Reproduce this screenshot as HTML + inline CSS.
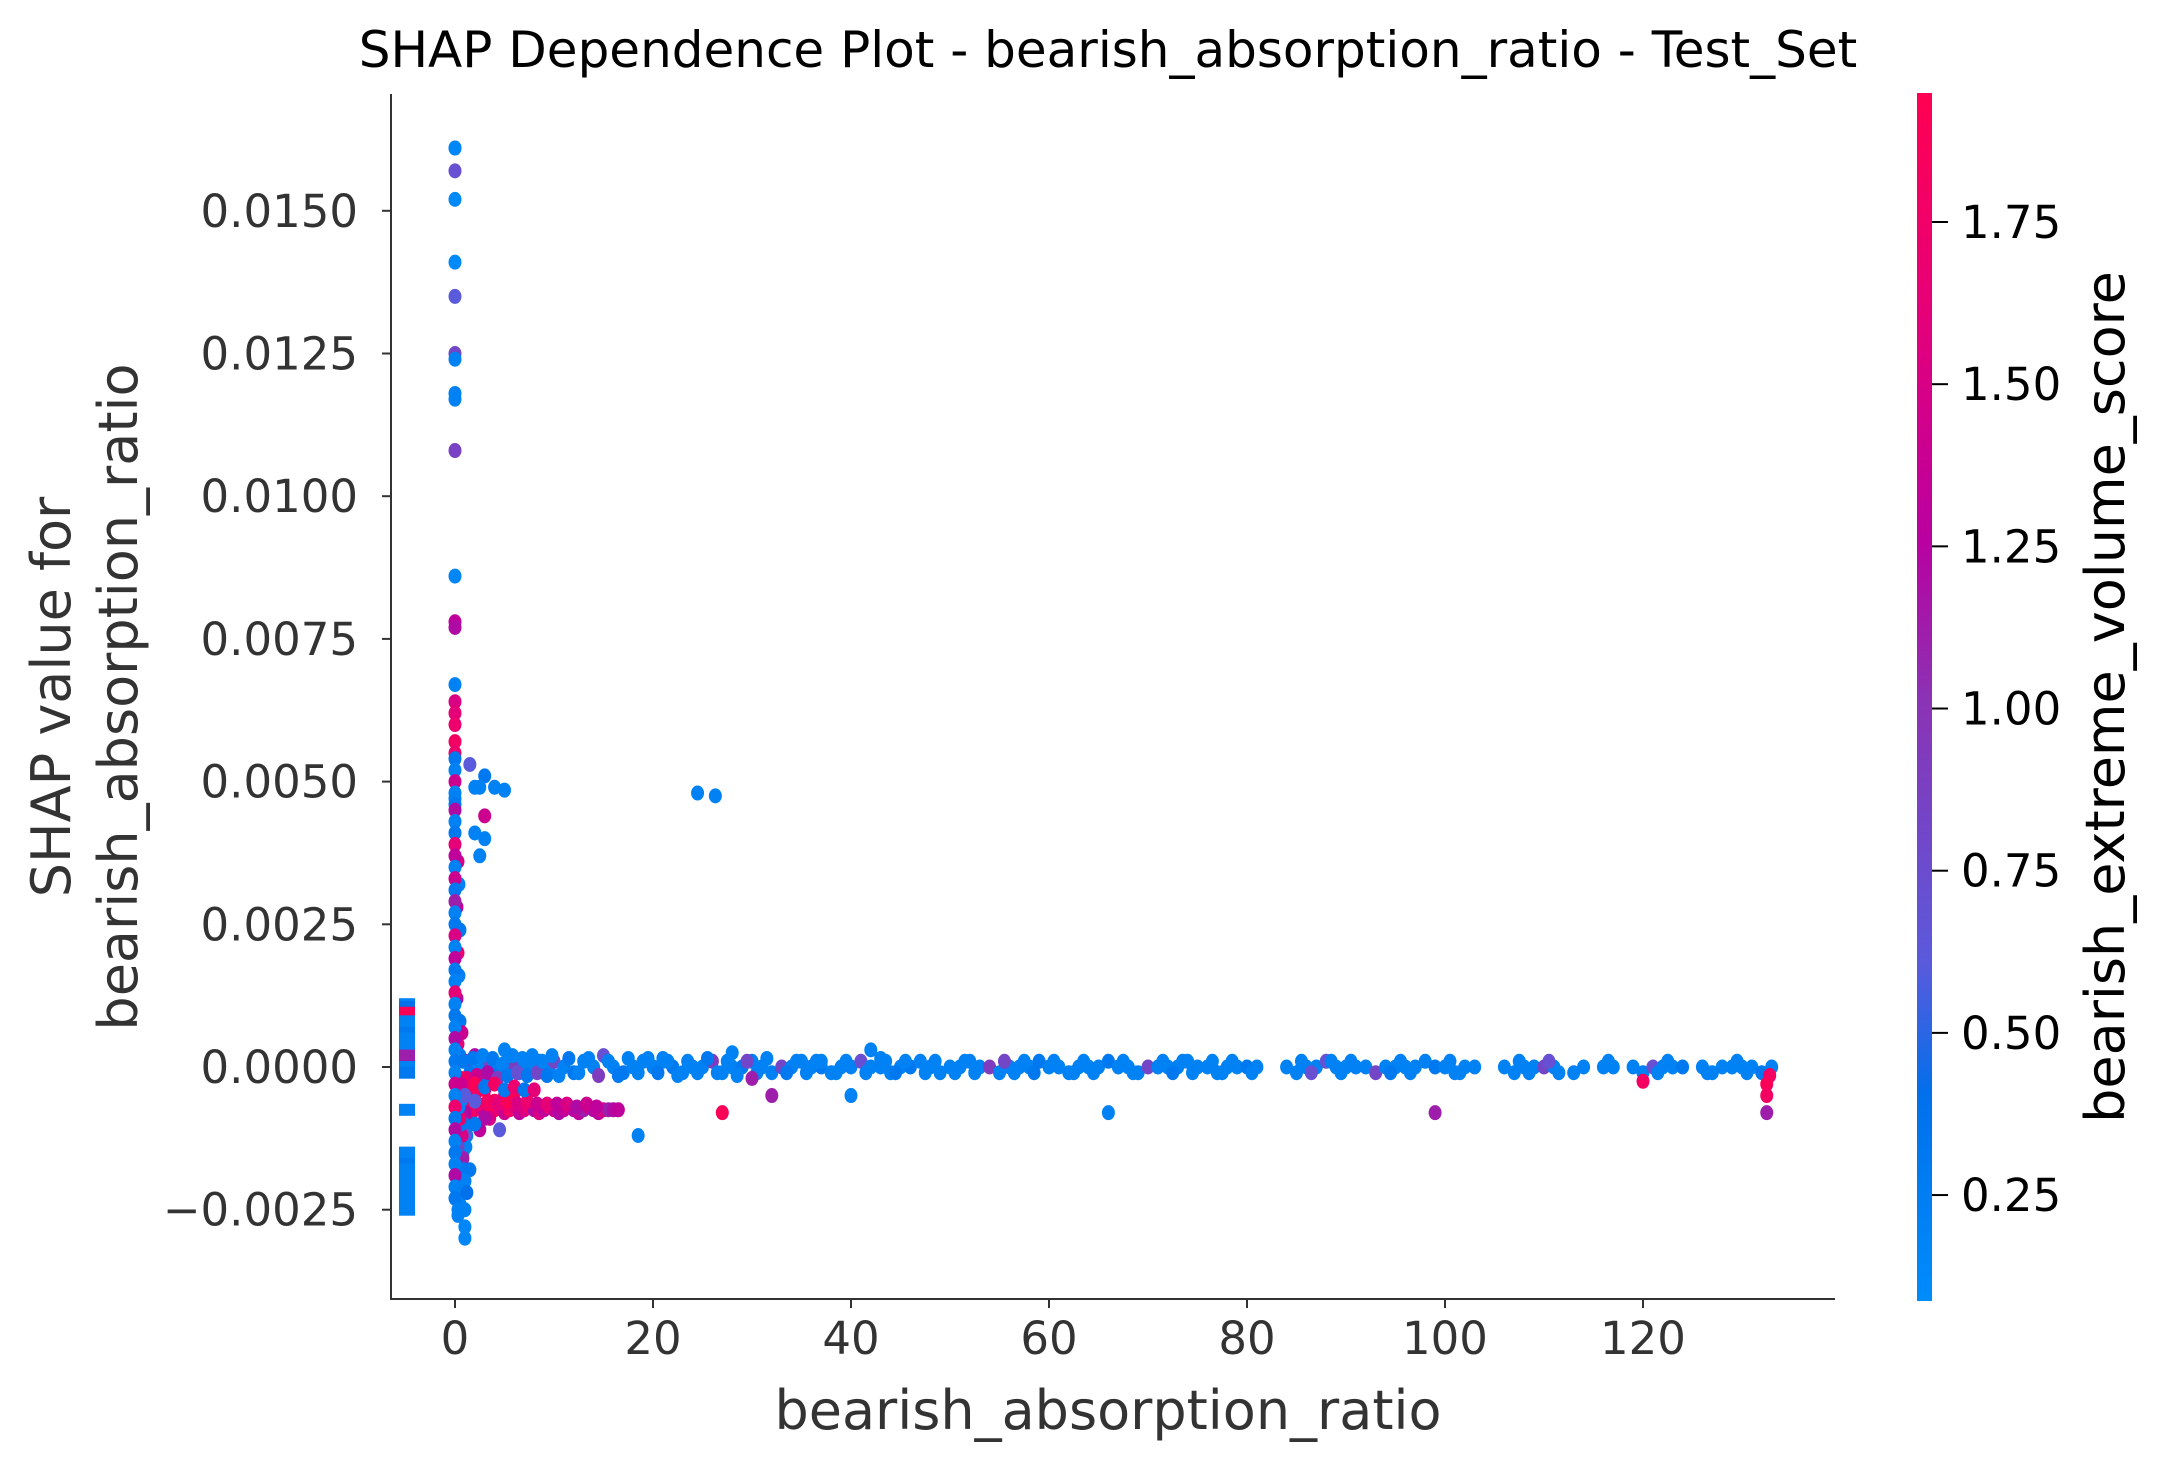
<!DOCTYPE html>
<html><head><meta charset="utf-8"><style>
body{margin:0;background:#fff;}
svg{display:block;font-family:"DejaVu Sans","Liberation Sans",sans-serif;}
</style></head><body>
<svg id="chart" width="2163" height="1471" viewBox="0 0 2163 1471">
<defs><linearGradient id="cbg" x1="0" y1="1" x2="0" y2="0">
<stop offset="0" stop-color="rgb(0,140,250)"/><stop offset="0.17" stop-color="rgb(0,112,235)"/><stop offset="0.28" stop-color="rgb(90,90,220)"/><stop offset="0.5" stop-color="rgb(140,50,180)"/><stop offset="0.63" stop-color="rgb(185,0,160)"/><stop offset="0.82" stop-color="rgb(230,0,120)"/><stop offset="1" stop-color="rgb(255,0,82)"/></linearGradient></defs>
<text x="1108" y="67" font-size="50" text-anchor="middle" fill="#000">SHAP Dependence Plot - bearish_absorption_ratio - Test_Set</text>
<g id="marks"></g>
<line x1="391" y1="94" x2="391" y2="1299" stroke="#333" stroke-width="2"/>
<line x1="390" y1="1299" x2="1835" y2="1299" stroke="#333" stroke-width="2"/>
<g id="axes"></g>
<text x="1108" y="1429" font-size="54" text-anchor="middle" fill="#333">bearish_absorption_ratio</text>
<text transform="translate(70,697) rotate(-90)" font-size="54" text-anchor="middle" fill="#333">SHAP value for</text>
<text transform="translate(137,697) rotate(-90)" font-size="54" text-anchor="middle" fill="#333">bearish_absorption_ratio</text>
<rect x="1917" y="93" width="15" height="1208" fill="url(#cbg)"/>
<g id="cbar"></g>
<text transform="translate(2124,697) rotate(-90)" font-size="54" text-anchor="middle" fill="#000">bearish_extreme_volume_score</text>
</svg>
<script>
const xTicks=[0,20,40,60,80,100,120];
const yTicks=[-25,0,25,50,75,100,125,150];
const yTickLabels=["\u22120.0025","0.0000","0.0025","0.0050","0.0075","0.0100","0.0125","0.0150"];
const cTicks=[0.25,0.5,0.75,1.0,1.25,1.5,1.75];
const cTickLabels=["0.25","0.50","0.75","1.00","1.25","1.50","1.75"];
// SHAP values in units of 1e-4
const spikeY=[161,161,157,152,141,135,125,124,118,117,108,86,78,77,67,64,62,60,57,55,54,52,50,48,47,46,45,43,41,39,37,35,33,31,29,27,25,23,21,19,17,15,13,11,9,7,5,3,1,-1,-3,-5,-7,-9,-11,-13,-15,-17,-19,-21,-23,-25,-26];
const spikeX=[0,0,0,0,0,0,0,0,0,0,0,0,0,0,0,0,0,0,0,0,0,0,0,0,0,0,0,0,0,0,0,0,0,0,0,0,0,0,0,0,0,0,0,0,0,0,0,0,0,0,0,0,0,0,0,0,0,0,0,0,0,0.3,0.3];
const spikeC=[0.15,0.15,0.7,0.1,0.1,0.6,0.8,0.2,0.2,0.2,0.85,0.15,1.3,1.2,0.2,1.5,1.6,1.7,1.8,1.7,0.3,0.2,1.4,0.2,0.2,0.3,1.2,0.2,0.3,1.6,1.3,0.2,1.4,0.3,1.1,0.2,0.3,1.5,0.2,1.3,0.3,0.2,1.6,0.2,0.3,0.2,1.2,0.2,0.3,0.2,1.4,0.2,1.7,0.3,1.2,0.2,0.3,0.2,1.2,0.2,0.3,0.2,0.2];
const spike2X=[0.3,0.4,0.2,0.5,0.3,0.4,0.2,0.5,0.3,0.4,0.6,0.5,0.7,0.6,0.8,0.9,1,1.1,0.8,0.9,1,1.2,0.7,0.6,0.5,0.4,0.3,0.6,0.8,1];
const spike2Y=[36,32,28,24,20,16,12,8,4,-4,-2,2,6,-6,-8,-10,-12,-14,-16,-18,-20,-22,-12,-10,-9,-7,-14,-3,1,-5];
const spike2C=[1.5,0.2,1.3,0.3,1.7,0.2,1.2,0.3,1.6,0.2,1.8,0.3,1.4,0.2,1.2,0.3,0.6,0.2,1.1,0.3,0.2,0.4,1.5,0.3,1.7,0.2,0.8,1.4,0.3,0.6];
const otherX=[1,1,0.5,1,1.5,3,2.5,4,5,3,2,3,2.5,2,24.5,26.3,18.5,27,40,66,99,120,132.5,132.5,132.5,30,32,21,28,42,43,37,1,1.5,0.8,1.2,2,0.5,1,2,0.5];
const otherY=[-28,-30,-24,-25,53,51,49,49,48.5,44,41,40,37,49,48,47.5,-12,-8,-5,-8,-8,-2.5,-3,-5,-8,-2,-5,1.5,2.5,3,1.5,1,-20,-18,-15,-12,-10,-22,-8,-6,-16];
const otherC=[0.15,0.15,0.2,0.2,0.6,0.3,0.2,0.2,0.2,1.4,0.2,0.2,0.2,0.2,0.2,0.2,0.2,1.9,0.2,0.2,1.1,1.8,1.9,1.8,1.1,1.1,1.1,0.2,0.2,0.2,0.2,0.2,0.2,0.3,0.6,0.2,0.3,0.2,1.3,0.6,1.5];
const bandX=[1,1.5,2,2.5,3,3.5,4,4.5,5,5.5,6,6.5,7,7.5,8,8.5,9,9.5,10,11,12,13,14,15,16,17,18,19,20,21,22,23,24,25,26,27,28,29,30,31,32,33,34,35,36,37,38,39,40,41,42,43,44,45,46,47,48,49,50,51,52,53,54,55,56,57,58,59,60,61,62,63,64,65,66,67,68,69,70,71,72,73,74,75,76,77,78,79,80,81,84,85,86,87,88,89,90,91,92,93,94,95,96,97,98,99,100,101,102,103,106,107,108,109,110,111,113,114,116,117,119,120,121,122,123,124,126,127,128,129,130,131,132,133];
const bandY=[1,-1,2,0,-2,1,0,-1,3,1,0,-1,1,0,0,1,-1,0,1,0,-1,1,0,2,0,-1,0,1,0,1,0,-1,0,0,1,-1,0,0,1,0,-1,0,0,1,0,0,-1,0,0,1,0,0,-1,0,0,1,0,-1,0,0,1,0,0,-1,0,0,0,1,0,0,-1,0,0,0,1,0,0,-1,0,0,0,0,1,0,0,-1,0,0,0,0,0,-1,0,0,1,0,0,0,0,-1,0,0,0,0,1,0,0,-1,0,0,0,-1,0,0,0,0,-1,0,0,0,0,-1,0,0,0,0,0,-1,0,0,0,0,-1,0];
const bandC=[1.3,0.3,1.2,0.2,0.3,0.8,0.2,0.3,0.2,0.2,0.9,0.2,0.3,0.2,0.2,0.2,0.3,0.2,0.8,0.2,0.3,0.2,0.2,0.7,0.2,0.3,0.2,0.2,0.2,0.2,0.3,0.2,0.2,0.2,0.9,0.2,0.2,0.3,0.2,0.2,0.2,0.8,0.2,0.2,0.2,0.3,0.2,0.2,0.2,0.7,0.2,0.2,0.2,0.2,0.3,0.2,0.2,0.2,0.2,0.2,0.2,0.2,0.9,0.2,0.2,0.2,0.2,0.3,0.2,0.2,0.2,0.2,0.2,0.2,0.3,0.2,0.2,0.2,0.8,0.2,0.2,0.2,0.2,0.2,0.2,0.2,0.2,0.2,0.3,0.2,0.2,0.2,0.2,0.2,0.7,0.2,0.2,0.2,0.2,0.8,0.2,0.2,0.2,0.2,0.2,0.3,0.2,0.2,0.2,0.2,0.2,0.2,0.2,0.2,0.8,0.2,0.2,0.2,0.2,0.2,0.2,0.2,0.7,0.2,0.2,0.3,0.2,0.2,0.2,0.2,0.2,0.2,0.3,0.2];
const band2X=[1.2,1.8,2.2,2.8,3.3,3.8,4.3,4.8,5.3,5.8,6.3,6.8,7.3,7.8,8.3,8.8,9.3,9.8,10.5,11.5,12.5,13.5,14.5,15.5,16.5,17.5,18.5,19.5,20.5,21.5,22.5,23.5,24.5,25.5,26.5,27.5,28.5,29.5,30.5,31.5,33.5,34.5,35.5,36.5,38.5,39.5,41.5,43.5,44.5,45.5,47.5,48.5,50.5,51.5,52.5,55.5,56.5,57.5,58.5,60.5,62.5,63.5,64.5,67.5,68.5,71.5,72.5,73.5,74.5,76.5,77.5,78.5,80.5,85.5,86.5,88.5,89.5,90.5,94.5,95.5,96.5,100.5,101.5,107.5,108.5,110.5,111.5,116.5,121.5,122.5,126.5,129.5,130.5,132.8];
const band2Y=[-2,1.5,-1.5,2,-1,1.5,-2,0.5,-1.5,2,-1,1.5,-1.5,2,-1,1,-1.5,2,-1.5,1.5,-1,1.5,-1.5,1,-1.5,1.5,-1,1.5,-1,1,-1.5,1,-1,1.5,-1,1,-1.5,1,-1,1.5,-1,1,-1,1,-1,1,-1,1,-1,1,-1,1,-1,1,-1,1,-1,1,-1,1,-1,1,-1,1,-1,1,-1,1,-1,1,-1,1,-1,1,-1,1,-1,1,-1,1,-1,1,-1,1,-1,1,-1,1,-1,1,-1,1,-1,-1.5];
const band2C=[1.6,0.3,1.4,0.2,1.2,0.3,0.9,0.2,0.3,0.2,0.7,0.2,0.3,0.2,0.8,0.2,0.3,0.2,0.2,0.3,0.2,0.2,0.9,0.2,0.3,0.2,0.2,0.2,0.3,0.2,0.2,0.2,0.2,0.3,0.2,0.2,0.2,0.8,0.2,0.2,0.3,0.2,0.2,0.2,0.2,0.2,0.2,0.2,0.3,0.2,0.2,0.2,0.2,0.2,0.2,0.8,0.2,0.2,0.3,0.2,0.2,0.2,0.2,0.2,0.2,0.2,0.3,0.2,0.2,0.2,0.2,0.2,0.2,0.2,0.7,0.2,0.2,0.2,0.3,0.2,0.2,0.2,0.2,0.2,0.2,0.7,0.2,0.2,0.2,0.2,0.2,0.2,0.2,1.8];
const lowX=[1,1.5,2,2.5,3,3.5,4,4.5,5,5.5,6,6.5,7,7.5,8,8.5,9,9.5,10,10.5,11,11.5,12,12.5,13,13.5,14,14.5,15,15.5,16,16.5,2,3,4,5,6,1.5,2.5,3.5,4.5,1,2,3,1.3,2.3,3.3,4.3,5.3,6.3,7.3,8.3,9.3,10.3,11.3,12.3,13.3,14.3,2,3,4,5,6,7,8];
const lowY=[-7,-8,-7.5,-7,-8,-7,-7.5,-7,-8,-7.5,-7,-8,-7.5,-7,-7.5,-8,-7.5,-7,-7.5,-8,-7.5,-7,-7.5,-8,-7.5,-7,-7.5,-8,-7.5,-7.5,-7.5,-7.5,-5,-4,-6,-5,-4.5,-10,-11,-9,-11,-4,-3,-9,-6,-6.5,-6,-6.5,-6,-6.5,-6,-6.5,-6.5,-6.5,-6.5,-7,-6.5,-7,-3,-3.5,-3,-4,-3.5,-4,-4];
const lowC=[1.7,1.5,1.8,1.6,1.3,1.7,1.9,1.5,1.4,1.8,1.6,1.3,1.5,1.7,1.2,1.5,1.3,1.6,1.4,1.2,1.3,1.5,1.2,1.3,1.1,1.4,1.2,1.3,1.5,1.1,1.2,1.3,1.8,1.9,1.8,1.7,1.9,1.4,1.3,1.5,0.6,1.7,1.8,1.2,1.9,1.7,1.8,1.6,1.9,1.5,1.7,1.4,1.6,1.3,1.5,1.2,1.4,1.3,1.9,0.3,1.8,0.3,1.7,0.3,1.6];
const nanY=[11,10.5,9.5,8,7,6,5,4,3,2,0,-1,-7.5,-15,-16,-17,-18,-19,-20,-21,-22,-23,-24,-25];
const nanC=[0.2,0.4,1.9,0.2,0.2,0.3,0.2,0.2,0.2,1.1,0.2,0.3,0.2,0.2,0.2,0.3,0.2,0.2,0.2,0.2,0.2,0.2,0.2,0.2];

const NS="http://www.w3.org/2000/svg";
function sx(v){return 455+v*9.9;}
function sy(v){return 1067-v*5.708;}
function sc(v){return 222+(1.75-v)*648.7;}
const stops=[[0.08,0,140,250],[0.4,0,112,235],[0.6,90,90,220],[1.0,140,50,180],[1.25,185,0,160],[1.6,230,0,120],[1.95,255,0,82]];
function col(c){c=Math.max(0.08,Math.min(1.95,c));for(let i=0;i<stops.length-1;i++){const a=stops[i],b=stops[i+1];if(c<=b[0]){const t=(c-a[0])/(b[0]-a[0]);return `rgb(${Math.round(a[1]+t*(b[1]-a[1]))},${Math.round(a[2]+t*(b[2]-a[2]))},${Math.round(a[3]+t*(b[3]-a[3]))})`;}}return "rgb(255,0,82)";}
function mk(tag,attrs){const e=document.createElementNS(NS,tag);for(const k in attrs)e.setAttribute(k,attrs[k]);return e;}
const marks=document.getElementById('marks');
nanY.forEach((v,i)=>{const r=mk('rect',{x:399,y:sy(v)-6,width:16,height:12,fill:col(nanC[i])});


marks.appendChild(r);});
function dots(X,Y,C,name){X.forEach((x,i)=>{const c=mk('ellipse',{cx:sx(x),cy:sy(Y[i]),rx:6.5,ry:7.5,fill:col(C[i])});


marks.appendChild(c);});}
dots(bandX,bandY,bandC,'band-point');
dots(band2X,band2Y,band2C,'band-point');
dots(lowX,lowY,lowC,'low-band-point');
dots(otherX,otherY,otherC,'outlier-point');
dots(spike2X,spike2Y,spike2C,'spike-point');
dots(spikeX,spikeY,spikeC,'spike-point');
const axes=document.getElementById('axes');
xTicks.forEach(v=>{const l=mk('line',{x1:sx(v),x2:sx(v),y1:1299,y2:1308,stroke:'#333','stroke-width':2});


axes.appendChild(l);
const t=mk('text',{x:sx(v),y:1354,'font-size':45,'text-anchor':'middle',fill:'#333'});t.textContent=v;


axes.appendChild(t);});
yTicks.forEach((v,i)=>{const l=mk('line',{x1:382,x2:391,y1:sy(v),y2:sy(v),stroke:'#333','stroke-width':2});


axes.appendChild(l);
const t=mk('text',{x:358,y:sy(v)+16,'font-size':45,'text-anchor':'end',fill:'#333'});t.textContent=yTickLabels[i];


axes.appendChild(t);});
const cb=document.getElementById('cbar');
cTicks.forEach((v,i)=>{const l=mk('line',{x1:1932,x2:1948,y1:sc(v),y2:sc(v),stroke:'#000','stroke-width':2});


cb.appendChild(l);
const t=mk('text',{x:1961,y:sc(v)+16,'font-size':45,fill:'#000'});t.textContent=cTickLabels[i];


cb.appendChild(t);});
</script>
</body></html>
